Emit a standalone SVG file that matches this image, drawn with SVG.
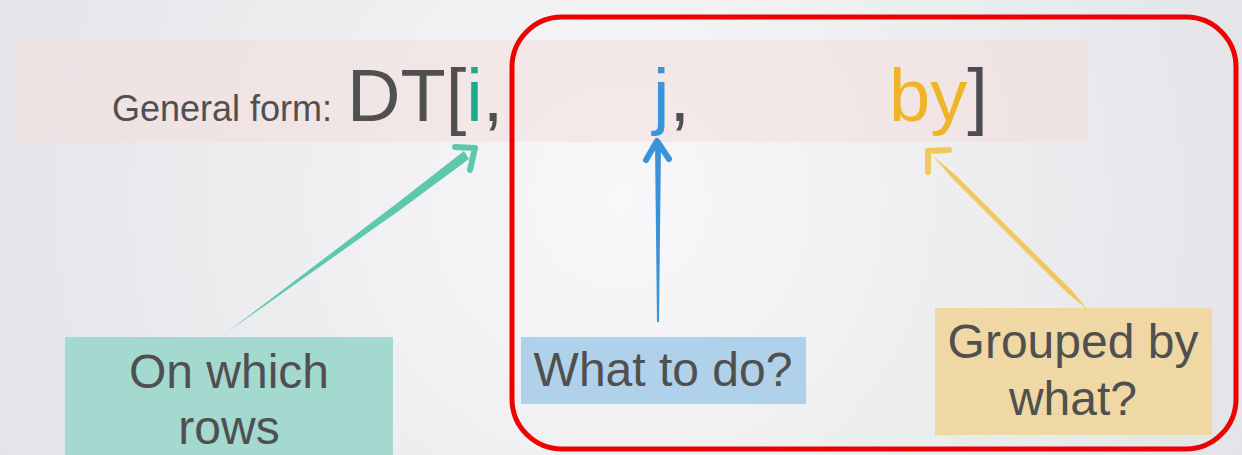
<svg xmlns="http://www.w3.org/2000/svg" width="1242" height="455" viewBox="0 0 1242 455">
<defs>
<radialGradient id="bg" cx="620" cy="200" r="700" gradientUnits="userSpaceOnUse">
<stop offset="0" stop-color="#f8f8fa"/>
<stop offset="1" stop-color="#e2e3e6"/>
</radialGradient>
<style>
.t{font-family:"Liberation Sans",Arial,sans-serif;fill:#505050}
.lbl{font-size:48px;text-anchor:middle}
.big{font-size:74px}
.head{fill:none;stroke-width:6;stroke-linecap:round;stroke-linejoin:round}
</style>
</defs>
<rect width="1242" height="455" fill="url(#bg)"/>
<g id="formula">
<rect x="15" y="40" width="1073" height="102" fill="#f4dcdc" opacity="0.55"/>
<text class="t" x="112" y="121" font-size="36">General form:</text>
<text class="t big" x="347" y="121">DT[<tspan fill="#1fa88a">i</tspan>,</text>
<text class="t big" x="653" y="121"><tspan fill="#3b94d8">j</tspan>,</text>
<text class="t big" x="889" y="121"><tspan fill="#f0b428">by</tspan><tspan fill="#4c4c54">]</tspan></text>
</g>
<g id="highlight">
<rect x="512" y="17" width="724" height="432" rx="50" fill="none" stroke="#ee0000" stroke-width="5"/>
</g>
<g id="rows">
<rect x="65" y="337" width="328" height="130" fill="#a3d9cf"/>
<text class="t lbl" x="229" y="388">On which</text>
<text class="t lbl" x="229" y="444">rows</text>
</g>
<g id="what">
<rect x="521" y="337" width="285" height="67" fill="#afd2ea"/>
<text class="t lbl" x="663" y="386">What to do?</text>
</g>
<g id="grouped">
<rect x="935" y="308" width="277" height="127" fill="#efd8a3"/>
<text class="t lbl" x="1073" y="358">Grouped by</text>
<text class="t lbl" x="1073" y="415">what?</text>
</g>
<g id="connectors">
<polygon points="226,333 400,210 469,159 464,151 396,204" fill="#5ec8ad"/>
<polyline class="head" stroke="#5ec8ad" points="455,147 475,148 470,170"/>
<polygon points="657,322 655,145 661,145 659,322" fill="#3a93d8"/>
<polyline class="head" stroke="#3a93d8" points="646,160 657,141 669,159"/>
<polygon points="1088,310 1071,289.6 957.2,176.5 932,155 953.6,180.1 1067.5,293.2" fill="#f2c85e"/>
<polyline class="head" stroke="#f2c85e" points="949,150 928,151 928,172"/>
</g>
</svg>
